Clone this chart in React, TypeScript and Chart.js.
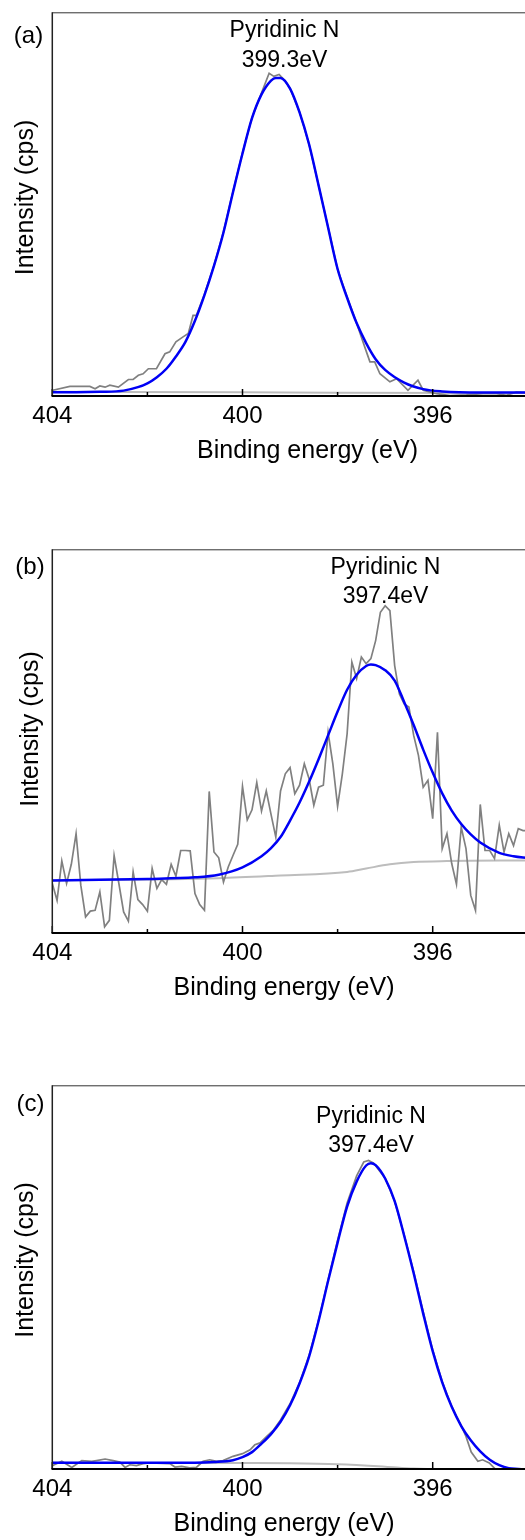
import React, { useEffect, useRef } from "react";
import { Chart, registerables } from "chart.js";

Chart.register(...registerables);

// ---------- shared axis data ----------
const xMin = 394;
const xMax = 404;
const xStep = 2;
const labelledTicks = [404, 400, 396];
const xAxisTitle = "Binding energy (eV)";
const yAxisTitle = "Intensity (cps)";
const peakName = "Pyridinic N";

// ---------- panel (a) ----------
const rawA_eV = [403.99, 403.63, 403.21, 403.1, 403.0, 402.89, 402.79, 402.61, 402.4, 402.3, 402.19, 402.09, 401.98, 401.81, 401.63, 401.53, 401.4, 401.25, 401.14, 401.04, 400.97, 400.8, 400.6, 400.4, 400.2, 400.0, 399.8, 399.6, 399.44, 399.34, 399.23, 399.11, 399.0, 398.8, 398.6, 398.4, 398.2, 398.0, 397.8, 397.6, 397.43, 397.32, 397.22, 397.11, 396.9, 396.76, 396.52, 396.31, 396.2, 395.92, 395.64, 395.29, 394.94, 394.66, 394.45, 394.24, 394.0];
const rawA = [1.5, 2.5, 2.5, 1.9, 2.6, 2.3, 2.8, 2.3, 4.3, 4.3, 5.4, 5.8, 7.1, 7.1, 11.0, 11.5, 14.1, 15.4, 16.3, 21.0, 21.0, 26.5, 34.0, 42.8, 53.3, 63.4, 72.6, 79.0, 84.1, 83.3, 83.8, 82.2, 80.2, 74.0, 65.6, 54.9, 44.0, 33.0, 25.8, 19.0, 12.8, 8.9, 8.9, 5.8, 3.7, 4.5, 1.5, 4.1, 1.5, 0.6, 0.1, 0.3, 0.6, 0.6, 0.2, 1.0, 0.9];
const fitA_eV = [404, 403.5, 403, 402.5, 402.2, 402, 401.8, 401.6, 401.4, 401.2, 401, 400.8, 400.6, 400.4, 400.2, 400, 399.8, 399.6, 399.4, 399.3, 399.2, 399, 398.8, 398.6, 398.4, 398.2, 398, 397.8, 397.6, 397.4, 397.2, 397, 396.6, 396.2, 395.8, 395, 394];
const fitA = [1.0, 1.0, 1.1, 1.4, 2.3, 3.3, 4.9, 7.1, 10.3, 14.1, 19.6, 26.3, 33.9, 42.6, 53.1, 63.2, 72.4, 78.6, 82.2, 82.9, 82.9, 80.1, 73.9, 65.6, 54.9, 43.9, 33.1, 25.6, 19.0, 13.8, 9.6, 6.8, 3.5, 1.8, 1.2, 0.9, 0.9];
const bgA_eV = [404, 400, 398, 394];
const bgA = [1.1, 1.0, 0.85, 0.8];

// ---------- panel (b) ----------
const rawB_eV = [404.0, 403.9, 403.8, 403.7, 403.6, 403.5, 403.4, 403.3, 403.2, 403.1, 403.0, 402.9, 402.8, 402.7, 402.6, 402.5, 402.4, 402.3, 402.2, 402.1, 402.0, 401.9, 401.8, 401.7, 401.6, 401.5, 401.4, 401.3, 401.2, 401.1, 401.0, 400.9, 400.8, 400.7, 400.6, 400.5, 400.4, 400.3, 400.2, 400.1, 400.0, 399.9, 399.8, 399.7, 399.6, 399.5, 399.4, 399.3, 399.2, 399.1, 399.0, 398.9, 398.8, 398.7, 398.6, 398.5, 398.4, 398.3, 398.2, 398.1, 398.0, 397.9, 397.8, 397.7, 397.6, 397.5, 397.4, 397.3, 397.2, 397.1, 397.0, 396.9, 396.8, 396.7, 396.6, 396.5, 396.4, 396.3, 396.2, 396.1, 396.0, 395.9, 395.8, 395.7, 395.6, 395.5, 395.4, 395.3, 395.2, 395.1, 395.0, 394.9, 394.8, 394.7, 394.6, 394.5, 394.4, 394.3, 394.2, 394.1, 394.0];
const rawB = [12.9, 8.5, 18.8, 12.9, 17.9, 25.9, 12.4, 4.2, 5.7, 5.9, 10.7, 1.6, 3.3, 20.2, 12.9, 5.5, 3.1, 15.9, 8.7, 7.4, 5.7, 16.8, 11.6, 13.9, 12.7, 17.9, 14.8, 21.5, 21.5, 21.4, 10.3, 7.4, 5.9, 36.9, 21.1, 19.6, 13.3, 17.2, 20.2, 23.1, 38.2, 29.5, 32.1, 39.2, 31.8, 37.0, 30.9, 25.0, 37.0, 41.5, 43.1, 36.3, 38.5, 44.1, 40.2, 33.3, 38.0, 38.5, 52.3, 44.1, 33.0, 41.5, 51.9, 70.6, 66.3, 71.9, 70.2, 71.5, 76.2, 83.6, 85.3, 84.0, 69.7, 62.3, 59.7, 58.9, 51.5, 46.3, 38.0, 39.8, 29.8, 52.3, 22.0, 25.9, 18.1, 12.7, 27.6, 22.0, 9.8, 5.9, 33.5, 21.5, 21.5, 19.4, 28.1, 21.1, 25.9, 22.8, 27.2, 26.7, 26.7];
const fitB_eV = [404, 403, 402, 401, 400.5, 400, 399.6, 399.4, 399.2, 399, 398.8, 398.6, 398.4, 398.2, 398, 397.8, 397.6, 397.4, 397.3, 397.2, 397, 396.8, 396.6, 396.4, 396.2, 396, 395.8, 395.6, 395.4, 395.2, 395, 394.6, 394.3, 394];
const fitB = [13.7, 13.9, 14.1, 14.5, 15.2, 17.1, 20.0, 22.1, 25.0, 29.3, 34.0, 39.4, 45.3, 51.5, 57.7, 63.4, 67.3, 69.6, 70.0, 69.8, 68.5, 65.8, 60.2, 54.2, 47.8, 41.8, 36.4, 31.9, 28.4, 25.7, 23.6, 20.9, 20.0, 19.5];
const bgB_eV = [404, 400.5, 399.2, 397.8, 397.4, 396.9, 396.4, 395.7, 394];
const bgB = [13.7, 14.3, 15.0, 15.9, 16.8, 17.9, 18.5, 18.75, 18.9];

// ---------- panel (c) ----------
const rawC_eV = [403.99, 403.8, 403.59, 403.38, 403.17, 403.07, 402.89, 402.72, 402.58, 402.47, 402.37, 402.23, 402.09, 401.95, 401.53, 401.42, 401.28, 401.11, 400.97, 400.83, 400.69, 400.54, 400.41, 400.2, 400.0, 399.84, 399.74, 399.63, 399.49, 399.36, 399.2, 399.0, 398.8, 398.6, 398.4, 398.2, 398.0, 397.8, 397.6, 397.45, 397.35, 397.25, 397.0, 396.8, 396.6, 396.4, 396.2, 396.0, 395.8, 395.6, 395.4, 395.3, 395.19, 395.05, 394.95, 394.81, 394.67, 394.4, 394.0];
const rawC = [0.9, 2.0, 0.4, 2.2, 2.0, 2.2, 2.6, 2.2, 1.8, 0.4, 1.1, 0.9, 1.4, 1.6, 1.4, 0.5, 0.7, 0.3, 0.4, 2.0, 2.4, 2.0, 2.2, 3.3, 4.0, 5.0, 6.3, 6.8, 8.5, 10.0, 12.8, 17.0, 22.5, 29.6, 38.8, 49.3, 59.6, 69.3, 76.4, 80.0, 80.4, 79.8, 75.8, 69.8, 61.0, 51.4, 41.0, 31.0, 22.8, 16.3, 11.3, 8.5, 4.4, 2.0, 2.4, 1.6, -0.2, -0.3, -0.3];
const fitC_eV = [404, 402, 401, 400.6, 400.2, 400, 399.8, 399.6, 399.4, 399.2, 399, 398.8, 398.6, 398.4, 398.2, 398, 397.8, 397.6, 397.4, 397.3, 397.2, 397, 396.8, 396.6, 396.4, 396.2, 396, 395.8, 395.6, 395.4, 395.2, 395, 394.8, 394.6, 394.4, 394.2, 394];
const fitC = [1.6, 1.6, 1.6, 1.8, 2.3, 3.1, 4.4, 6.6, 9.1, 12.3, 16.6, 22.3, 29.3, 38.6, 49.0, 59.0, 68.4, 74.9, 79.1, 79.7, 79.2, 75.7, 69.8, 60.8, 51.0, 40.5, 30.7, 22.6, 16.2, 11.2, 7.5, 4.6, 2.4, 1.0, 0.2, 0.0, -0.2];
const bgC_eV = [404, 400, 399, 398, 397, 396.4, 396, 394];
const bgC = [1.6, 1.55, 1.5, 1.25, 0.6, 0.1, 0.0, -0.3];

// ---------- panel text ----------
const panelLetters = ["(a)", "(b)", "(c)"];
const peakEnergies = ["399.3eV", "397.4eV", "397.4eV"];

type Series = { eV: number[]; val: number[] };
type PanelCfg = {
  raw: Series;
  fit: Series;
  bg: Series;
  letter: string;
  energy: string;
  top: number;
  letterX: number;
  letterY: number;
  annX: number;
  annY1: number;
  annY2: number;
  xTitleX: number;
  yTitleX: number;
  yTitleY: number;
};

const panels: PanelCfg[] = [
  {
    raw: { eV: rawA_eV, val: rawA },
    fit: { eV: fitA_eV, val: fitA },
    bg: { eV: bgA_eV, val: bgA },
    letter: panelLetters[0],
    energy: peakEnergies[0],
    top: 0,
    letterX: 28.5,
    letterY: 36.5,
    annX: 284.5,
    annY1: 37,
    annY2: 66.5,
    xTitleX: 307.5,
    yTitleX: 24,
    yTitleY: 197.5,
  },
  {
    raw: { eV: rawB_eV, val: rawB },
    fit: { eV: fitB_eV, val: fitB },
    bg: { eV: bgB_eV, val: bgB },
    letter: panelLetters[1],
    energy: peakEnergies[1],
    top: 537,
    letterX: 30,
    letterY: 30.5,
    annX: 385.5,
    annY1: 37,
    annY2: 66.3,
    xTitleX: 284,
    yTitleX: 29,
    yTitleY: 192,
  },
  {
    raw: { eV: rawC_eV, val: rawC },
    fit: { eV: fitC_eV, val: fitC },
    bg: { eV: bgC_eV, val: bgC },
    letter: panelLetters[2],
    energy: peakEnergies[2],
    top: 1073,
    letterX: 30.5,
    letterY: 31,
    annX: 371,
    annY1: 50.3,
    annY2: 78.7,
    xTitleX: 284,
    yTitleX: 24.5,
    yTitleY: 187,
  },
];

const FONT = '"Liberation Sans", Arial, Helvetica, sans-serif';
const CANVAS_W = 545;
const CANVAS_H = 537;
const AREA_LEFT = 52.3;
const AREA_RIGHT = 527.8;
const AREA_TOP = 12.3;
const AREA_BOTTOM = 396;

const toPoints = (s: Series) => s.eV.map((e, i) => ({ x: e, y: s.val[i] }));

function Panel({ cfg }: { cfg: PanelCfg }) {
  const ref = useRef<HTMLCanvasElement | null>(null);

  useEffect(() => {
    const canvas = ref.current;
    if (!canvas) return;

    const framePlugin = {
      id: "frameTicks",
      afterDatasetsDraw(chart: any) {
        const { ctx, chartArea } = chart;
        const { left, right, top, bottom } = chartArea;
        const x = chart.scales.x;
        ctx.save();
        // inner tick marks
        ctx.strokeStyle = "#000";
        ctx.lineWidth = 1.5;
        x.ticks.forEach((t: any) => {
          const px = x.getPixelForValue(t.value);
          const len = labelledTicks.includes(t.value) ? 7 : 4;
          ctx.beginPath();
          ctx.moveTo(px, bottom);
          ctx.lineTo(px, bottom - len);
          ctx.stroke();
        });
        // frame
        ctx.strokeStyle = "#333";
        ctx.lineWidth = 1;
        ctx.beginPath();
        ctx.moveTo(left, top + 0.5);
        ctx.lineTo(right, top + 0.5);
        ctx.stroke();
        ctx.lineWidth = 1.5;
        ctx.strokeStyle = "#222";
        ctx.beginPath();
        ctx.moveTo(left, top);
        ctx.lineTo(left, bottom);
        ctx.moveTo(right, top);
        ctx.lineTo(right, bottom);
        ctx.stroke();
        ctx.strokeStyle = "#000";
        ctx.lineWidth = 2;
        ctx.beginPath();
        ctx.moveTo(left - 0.75, bottom);
        ctx.lineTo(right, bottom);
        ctx.stroke();
        ctx.restore();
      },
    };

    const textPlugin = {
      id: "panelText",
      afterDraw(chart: any) {
        const { ctx } = chart;
        ctx.save();
        ctx.fillStyle = "#000";
        // panel letter
        ctx.font = `24px ${FONT}`;
        ctx.textAlign = "center";
        ctx.textBaseline = "middle";
        ctx.fillText(cfg.letter, cfg.letterX, cfg.letterY);
        // peak annotation
        ctx.font = `23px ${FONT}`;
        ctx.textBaseline = "alphabetic";
        ctx.fillText(peakName, cfg.annX, cfg.annY1);
        ctx.fillText(cfg.energy, cfg.annX, cfg.annY2);
        // x title
        ctx.font = `25px ${FONT}`;
        ctx.fillText(xAxisTitle, cfg.xTitleX, 458.3);
        // y title
        ctx.translate(cfg.yTitleX + 2, cfg.yTitleY);
        ctx.rotate(-Math.PI / 2);
        ctx.textBaseline = "middle";
        ctx.fillText(yAxisTitle, 0, 0);
        ctx.restore();
      },
    };

    const chart = new Chart(canvas, {
      type: "line",
      data: {
        datasets: [
          {
            label: "fit",
            data: toPoints(cfg.fit),
            borderColor: "rgb(0,0,245)",
            borderWidth: 2.5,
            pointRadius: 0,
            fill: false,
            cubicInterpolationMode: "monotone",
          },
          {
            label: "raw",
            data: toPoints(cfg.raw),
            borderColor: "#808080",
            borderWidth: 1.7,
            pointRadius: 0,
            fill: false,
            tension: 0,
          },
          {
            label: "background",
            data: toPoints(cfg.bg),
            borderColor: "#bdbdbd",
            borderWidth: 2,
            pointRadius: 0,
            fill: false,
            cubicInterpolationMode: "monotone",
          },
        ],
      },
      options: {
        animation: false,
        responsive: false,
        devicePixelRatio: 1,
        events: [],
        layout: {
          padding: {
            left: AREA_LEFT,
            top: AREA_TOP,
            right: CANVAS_W - AREA_RIGHT,
            bottom: 0,
          },
        },
        plugins: {
          legend: { display: false },
          tooltip: { enabled: false },
          title: { display: false },
        },
        scales: {
          x: {
            type: "linear",
            reverse: true,
            min: xMin,
            max: xMax,
            grid: { display: false, drawTicks: false },
            border: { display: false },
            ticks: {
              stepSize: xStep,
              autoSkip: false,
              maxRotation: 0,
              padding: 5.5,
              color: "#000",
              font: { family: FONT, size: 24 },
              callback: (v: any) => (labelledTicks.includes(Number(v)) ? String(v) : ""),
            },
            title: { display: false },
            afterFit: (s: any) => {
              s.height = CANVAS_H - AREA_BOTTOM;
            },
          },
          y: {
            type: "linear",
            display: false,
            min: 0,
            max: 100,
          },
        },
      },
      plugins: [framePlugin, textPlugin],
    } as any);

    return () => chart.destroy();
  }, [cfg]);

  return (
    <canvas
      ref={ref}
      width={CANVAS_W}
      height={CANVAS_H}
      style={{
        position: "absolute",
        left: 0,
        top: cfg.top,
        width: CANVAS_W,
        height: CANVAS_H,
        display: "block",
      }}
    />
  );
}

export default function App() {
  return (
    <div
      style={{
        position: "absolute",
        left: 0,
        top: 0,
        width: 525,
        height: 1540,
        overflow: "hidden",
        background: "#fff",
      }}
    >
      {panels.map((p, i) => (
        <Panel key={i} cfg={p} />
      ))}
    </div>
  );
}
